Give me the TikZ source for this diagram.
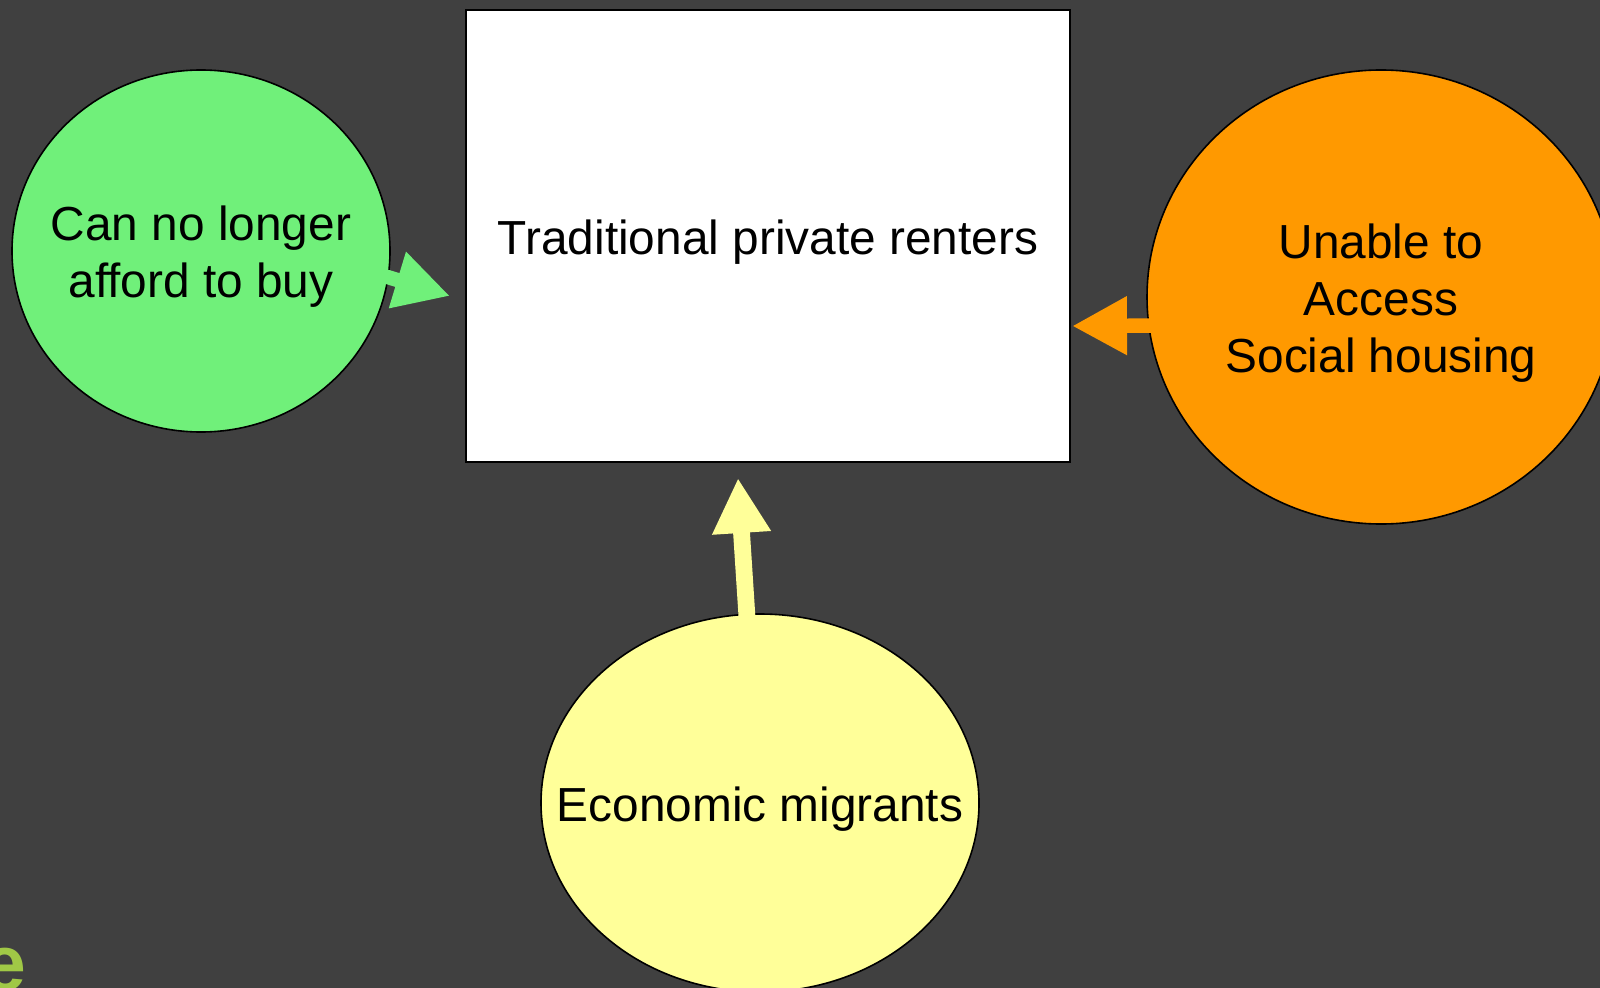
\documentclass[tikz,border=0pt]{standalone}
\usepackage{fontspec}
\setmainfont{Liberation Sans}
\usetikzlibrary{shapes.geometric,arrows.meta}

\definecolor{slate}{RGB}{64,64,64}
\definecolor{buygreen}{RGB}{112,240,122}
\definecolor{socialorange}{RGB}{255,153,0}
\definecolor{migrantyellow}{RGB}{255,255,153}
\definecolor{logogreen}{RGB}{160,200,70}

\begin{document}
\begin{tikzpicture}[x=0.25mm,y=-0.25mm,inner sep=0mm,
				font=\fontsize{34}{40.6}\selectfont,
				every label/.style={yshift=-1.5mm},
				group/.style={ellipse,draw=black,line width=0.4mm},
				box/.style={rectangle,draw=black,fill=white,line width=0.5mm},
				flow/.style={line width=3.6mm,-{Triangle[length=13.75mm,width=13.75mm]}},]
				
				% page and clipping
				\path[use as bounding box,fill=slate] (0,0) rectangle (1600,988);
				\clip (0,0) rectangle (1600,988);
				
				% the tenure box and the three feeder groups
				\node[box,minimum width=151mm,minimum height=113mm,
					label={center:Traditional private renters}] (renters) at (768,236) {};
				\node[group,fill=buygreen,minimum width=94.5mm,minimum height=90.5mm,
					label={[align=center]center:{Can no longer\\afford to buy}}] (buy) at (201,251) {};
				\node[group,fill=socialorange,minimum width=117mm,minimum height=113.5mm,
					label={[align=center]center:{Unable to\\Access\\Social housing}}] (social) at (1381,297) {};
				\node[group,fill=migrantyellow,minimum width=109.5mm,minimum height=94.5mm,
					label={center:Economic migrants}] (migrants) at (760,803) {};
				
				% arrow heads stop short of the box
				\coordinate (buytip) at (450,296);
				\coordinate (socialtip) at (1072,326);
				\coordinate (migranttip) at (738,478);
				
				\draw[flow,buygreen,shorten <=-1mm] (buy.-8) -- (buytip);
				\draw[flow,socialorange,shorten <=-1mm] (social.187) -- (socialtip);
				\draw[flow,migrantyellow,line width=4.2mm,shorten <=-1mm] (migrants.94) -- (migranttip);
				
				% logo corner
				\node[anchor=base east,text=logogreen,font=\fontsize{56}{64}\selectfont\bfseries] (logo) at (27,990) {e};
				
			\end{tikzpicture}
\end{document}
